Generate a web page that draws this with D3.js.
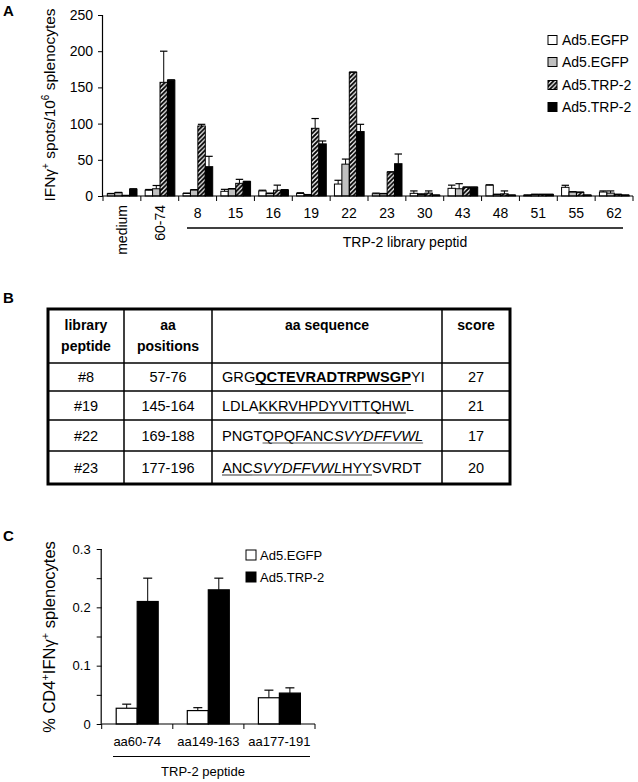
<!DOCTYPE html>
<html>
<head>
<meta charset="utf-8">
<script src="https://cdn.jsdelivr.net/npm/d3@7"></script>
<style>
  body { margin: 0; background: #fff; }
  svg text { font-family: "Liberation Sans", Arial, sans-serif; fill: #000; }
</style>
</head>
<body>
<svg id="fig" width="638" height="782"></svg>
<script>
// ---- Panel A data (IFNg spots / 10^6 splenocytes) ----
const groupsA = ["medium", "60-74", "8", "15", "16", "19", "22", "23", "30", "43", "48", "51", "55", "62"];
const seriesA = ["Ad5.EGFP", "Ad5.EGFP", "Ad5.TRP-2", "Ad5.TRP-2"];
const egfpOpen    = [3, 8, 3.5, 6.5, 7, 3.5, 16.5, 3, 3.7, 10.6, 15, 1, 12, 5.5];
const egfpOpenErr = [0.5, 1, 0.5, 2.7, 1, 1, 5.2, 1, 3.3, 4.4, 0.5, 0.5, 2.8, 1.5];
const egfpGray    = [4.5, 10, 8.3, 9.7, 3.5, 1.5, 44, 3, 2, 10, 2, 2, 5.5, 4];
const egfpGrayErr = [0.5, 4.5, 0.5, 0.5, 0.5, 0.5, 7, 0.5, 1, 7, 0.5, 0.5, 0.5, 3];
const trpHatch    = [1, 157, 96.7, 17.5, 8, 93.5, 170.8, 33, 4, 12, 3, 2, 5, 2];
const trpHatchErr = [0, 43, 2.3, 5.5, 7, 13.5, 0.5, 0.5, 3, 0.5, 4, 0.5, 0.5, 0.5];
const trpSolid    = [9.5, 160, 40.5, 19.8, 8.3, 72, 89, 44.6, 1, 12, 1, 2, 1, 1];
const trpSolidErr = [0.5, 0.5, 14.3, 0.5, 0.5, 4, 10, 13.4, 0.5, 0.5, 0.5, 0.5, 0.5, 0.5];
const ticksA = [0, 50, 100, 150, 200, 250];

// ---- Panel B table ----
const tableHeader = [["library", "peptide"], ["aa", "positions"], ["aa sequence"], ["score"]];
const libPeptide = ["#8", "#19", "#22", "#23"];
const aaPositions = ["57-76", "145-164", "169-188", "177-196"];
const scores = ["27", "21", "17", "20"];
// sequence pieces: t = text, b = bold, i = italic, u = underlined
const sequences = [
  [{t: "GRG"}, {t: "QCTEVRADTRPWSGP", b: 1, u: 1}, {t: "YI"}],
  [{t: "LDLA"}, {t: "KKRVHPDYVITTQHW", u: 1}, {t: "L"}],
  [{t: "PNGT"}, {t: "QPQFANC", u: 1}, {t: "SVYDFFVWL", i: 1, u: 1}],
  [{t: "ANC", u: 1}, {t: "SVYDFFVWL", i: 1, u: 1}, {t: "HYY", u: 1}, {t: "SVRDT"}]
];

// ---- Panel C data (% CD4+IFNg+ splenocytes) ----
const groupsC = ["aa60-74", "aa149-163", "aa177-191"];
const seriesC = ["Ad5.EGFP", "Ad5.TRP-2"];
const egfpC    = [0.027, 0.023, 0.045];
const egfpCErr = [0.007, 0.005, 0.013];
const trpC     = [0.21, 0.23, 0.053];
const trpCErr  = [0.04, 0.02, 0.009];
const ticksC = [0, 0.05, 0.1, 0.15, 0.2, 0.25, 0.3];

const svg = d3.select("#fig");

// hatch pattern
const defs = svg.append("defs");
defs.append("pattern")
    .attr("id", "hatch")
    .attr("patternUnits", "userSpaceOnUse")
    .attr("width", 4.5).attr("height", 4.5)
  .append("path")
    .attr("d", "M-1,1 l2,-2 M0,4.5 l4.5,-4.5 M3.5,5.5 l2,-2")
    .attr("stroke", "#000")
    .attr("stroke-width", 1.9);

// panel letters
[["A", 16], ["B", 303], ["C", 541]].forEach(([l, y]) => {
  svg.append("text").attr("x", 3).attr("y", y)
    .attr("font-size", 15).attr("font-weight", "bold").text(l);
});

// error bar helper (upwards only, with cap)
function errBar(g, cx, y0, y1, capW) {
  g.append("line").attr("x1", cx).attr("x2", cx).attr("y1", y0).attr("y2", y1)
    .attr("stroke", "#000").attr("stroke-width", 1);
  g.append("line").attr("x1", cx - capW / 2).attr("x2", cx + capW / 2).attr("y1", y1).attr("y2", y1)
    .attr("stroke", "#000").attr("stroke-width", 1.2);
}

// ================= PANEL A =================
(function () {
  const x = d3.scaleBand().domain(groupsA).range([103, 633]);
  const xi = d3.scaleBand().domain(d3.range(4)).range([4.3, 34]);
  const y = d3.scaleLinear().domain([0, 250]).range([196, 15]);
  const g = svg.append("g");

  const vals = [egfpOpen, egfpGray, trpHatch, trpSolid];
  const errs = [egfpOpenErr, egfpGrayErr, trpHatchErr, trpSolidErr];
  const fills = ["#fff", "#c0c0c0", "url(#hatch)", "#000"];

  groupsA.forEach((grp, gi) => {
    vals.forEach((arr, si) => {
      const bx = x(grp) + xi(si);
      const bw = xi.bandwidth();
      const v = arr[gi];
      g.append("rect")
        .attr("x", bx).attr("y", y(v))
        .attr("width", bw).attr("height", y(0) - y(v))
        .attr("fill", fills[si])
        .attr("stroke", "#000").attr("stroke-width", 1);
      if (errs[si][gi] > 0) {
        errBar(g, bx + bw / 2, y(v), y(v + errs[si][gi]), bw);
      }
    });
  });

  // y axis
  const yAxis = g.append("g").attr("transform", "translate(103,0)")
    .call(d3.axisLeft(y).tickValues(ticksA).tickSize(5).tickFormat(d3.format("d")));
  yAxis.selectAll("text").attr("font-size", 14).attr("font-family", null).attr("dx", -2);
  yAxis.select(".domain").attr("d", `M-0.5,${y(0)}V${y(250)}`).attr("stroke-width", 1.2);

  // x axis line + boundary ticks
  g.append("line").attr("x1", 103).attr("x2", 633).attr("y1", y(0)).attr("y2", y(0))
    .attr("stroke", "#000").attr("stroke-width", 1.2);
  groupsA.concat(["_end"]).forEach((grp, i) => {
    const tx = i < groupsA.length ? x(grp) : x.range()[1];
    g.append("line").attr("x1", tx).attr("x2", tx).attr("y1", y(0)).attr("y2", y(0) + 5)
      .attr("stroke", "#000");
  });

  // category labels
  groupsA.forEach((grp, i) => {
    const cx = x(grp) + x.bandwidth() / 2;
    if (i < 2) {
      g.append("text")
        .attr("transform", `translate(${cx + 5},205) rotate(-90)`)
        .attr("text-anchor", "end").attr("font-size", 14).text(grp);
    } else {
      g.append("text").attr("x", cx).attr("y", 218)
        .attr("text-anchor", "middle").attr("font-size", 14).text(grp);
    }
  });
  g.append("line").attr("x1", 187).attr("x2", 623).attr("y1", 228).attr("y2", 228)
    .attr("stroke", "#000").attr("stroke-width", 1.3);
  g.append("text").attr("x", 405).attr("y", 247).attr("text-anchor", "middle")
    .attr("font-size", 14).text("TRP-2 library peptid");

  // y label
  const yl = g.append("text").attr("transform", "translate(55,105) rotate(-90)")
    .attr("text-anchor", "middle").attr("font-size", 15.5);
  yl.append("tspan").text("IFN\u03b3");
  yl.append("tspan").attr("dy", -6).attr("font-size", 10).text("+");
  yl.append("tspan").attr("dy", 6).text(" spots/10");
  yl.append("tspan").attr("dy", -6).attr("font-size", 10).text("6");
  yl.append("tspan").attr("dy", 6).text(" splenocytes");

  // legend
  const lf = ["#fff", "#c0c0c0", "url(#hatch)", "#000"];
  const ly = [40, 62, 85, 107];
  seriesA.forEach((s, i) => {
    g.append("rect").attr("x", 548).attr("y", ly[i] - 4.5).attr("width", 9).attr("height", 9)
      .attr("fill", lf[i]).attr("stroke", "#000").attr("stroke-width", 1);
    g.append("text").attr("x", 562).attr("y", ly[i] + 5).attr("font-size", 14).text(s);
  });
})();

// ================= PANEL B =================
(function () {
  const colX = [48, 124, 212, 442, 510];
  const rowY = [309, 363, 391, 420, 451, 484];
  const g = svg.append("g");

  // inner lines
  colX.slice(1, -1).forEach(cx => {
    g.append("line").attr("x1", cx).attr("x2", cx).attr("y1", rowY[0]).attr("y2", rowY[5])
      .attr("stroke", "#000").attr("stroke-width", 1.5);
  });
  rowY.slice(1, -1).forEach(ry => {
    g.append("line").attr("x1", colX[0]).attr("x2", colX[4]).attr("y1", ry).attr("y2", ry)
      .attr("stroke", "#000").attr("stroke-width", 1.5);
  });
  g.append("rect").attr("x", colX[0]).attr("y", rowY[0])
    .attr("width", colX[4] - colX[0]).attr("height", rowY[5] - rowY[0])
    .attr("fill", "none").attr("stroke", "#000").attr("stroke-width", 3);

  const mid = i => (colX[i] + colX[i + 1]) / 2;

  // header
  tableHeader.forEach((lines, ci) => {
    lines.forEach((ln, li) => {
      g.append("text").attr("x", mid(ci)).attr("y", 330 + li * 21)
        .attr("text-anchor", "middle").attr("font-size", 14).attr("font-weight", "bold").text(ln);
    });
  });

  // body
  libPeptide.forEach((p, ri) => {
    const by = (rowY[ri + 1] + rowY[ri + 2]) / 2 + 5;
    g.append("text").attr("x", mid(0)).attr("y", by).attr("text-anchor", "middle").attr("font-size", 14.5).text(p);
    g.append("text").attr("x", mid(1)).attr("y", by).attr("text-anchor", "middle").attr("font-size", 14.5).text(aaPositions[ri]);
    g.append("text").attr("x", mid(3)).attr("y", by).attr("text-anchor", "middle").attr("font-size", 14.5).text(scores[ri]);

    const t = g.append("text").attr("x", 222).attr("y", by).attr("font-size", 14.6);
    sequences[ri].forEach(seg => {
      t.append("tspan").text(seg.t)
        .attr("font-weight", seg.b ? "bold" : null)
        .attr("font-style", seg.i ? "italic" : null);
    });
    // underline by measuring characters
    const node = t.node();
    let idx = 0;
    sequences[ri].forEach(seg => {
      const n = seg.t.length;
      if (seg.u) {
        const x0 = node.getStartPositionOfChar(idx).x;
        const x1 = node.getEndPositionOfChar(idx + n - 1).x;
        g.append("line").attr("x1", x0).attr("x2", x1).attr("y1", by + 2.5).attr("y2", by + 2.5)
          .attr("stroke", ri >= 2 ? "#555" : "#000").attr("stroke-width", 1.2);
      }
      idx += n;
    });
  });
})();

// ================= PANEL C =================
(function () {
  const x = d3.scaleBand().domain(groupsC).range([101.7, 315]);
  const xi = d3.scaleBand().domain(d3.range(2)).range([14.5, 56.5]);
  const y = d3.scaleLinear().domain([0, 0.3]).range([724, 549]);
  const g = svg.append("g");

  const vals = [egfpC, trpC];
  const errs = [egfpCErr, trpCErr];
  const fills = ["#fff", "#000"];

  groupsC.forEach((grp, gi) => {
    vals.forEach((arr, si) => {
      const bx = x(grp) + xi(si);
      const bw = xi.bandwidth();
      const v = arr[gi];
      errBar(g, bx + bw / 2, y(v), y(v + errs[si][gi]), 9);
      g.append("rect").attr("x", bx).attr("y", y(v))
        .attr("width", bw).attr("height", y(0) - y(v))
        .attr("fill", fills[si]).attr("stroke", "#000").attr("stroke-width", 1.2);
    });
  });

  const yAxis = g.append("g").attr("transform", "translate(101.7,0)")
    .call(d3.axisLeft(y).tickValues(ticksC).tickSize(5)
      .tickFormat(d => (Math.round(d * 100) % 10 === 0) ? (d === 0 ? "0" : d3.format(".1f")(d)) : ""));
  yAxis.selectAll("text").attr("font-size", 13).attr("font-family", null).attr("dx", -3);
  yAxis.select(".domain").attr("d", `M-0.5,${y(0)}V${y(0.3)}`).attr("stroke-width", 1.2);

  g.append("line").attr("x1", 101.7).attr("x2", 315).attr("y1", y(0)).attr("y2", y(0))
    .attr("stroke", "#000").attr("stroke-width", 1.2);
  groupsC.concat(["_end"]).forEach((grp, i) => {
    const tx = i < groupsC.length ? x(grp) : x.range()[1];
    g.append("line").attr("x1", tx).attr("x2", tx).attr("y1", y(0)).attr("y2", y(0) + 5)
      .attr("stroke", "#000");
  });
  groupsC.forEach(grp => {
    g.append("text").attr("x", x(grp) + x.bandwidth() / 2).attr("y", 746)
      .attr("text-anchor", "middle").attr("font-size", 13).text(grp);
  });
  g.append("line").attr("x1", 113).attr("x2", 310).attr("y1", 756.5).attr("y2", 756.5)
    .attr("stroke", "#000").attr("stroke-width", 1.2);
  g.append("text").attr("x", 203).attr("y", 776).attr("text-anchor", "middle")
    .attr("font-size", 13).text("TRP-2 peptide");

  // y label
  const yl = g.append("text").attr("transform", "translate(55,637) rotate(-90)")
    .attr("text-anchor", "middle").attr("font-size", 16.5);
  yl.append("tspan").text("% CD4");
  yl.append("tspan").attr("dy", -6).attr("font-size", 11).text("+");
  yl.append("tspan").attr("dy", 6).text("IFN\u03b3");
  yl.append("tspan").attr("dy", -6).attr("font-size", 11).text("+");
  yl.append("tspan").attr("dy", 6).text(" splenocytes");

  // legend
  const ly = [555, 577];
  seriesC.forEach((s, i) => {
    g.append("rect").attr("x", 246).attr("y", ly[i] - 5).attr("width", 10).attr("height", 10)
      .attr("fill", fills[i]).attr("stroke", "#000").attr("stroke-width", 1);
    g.append("text").attr("x", 260).attr("y", ly[i] + 5).attr("font-size", 13).text(s);
  });
})();
</script>
</body>
</html>
